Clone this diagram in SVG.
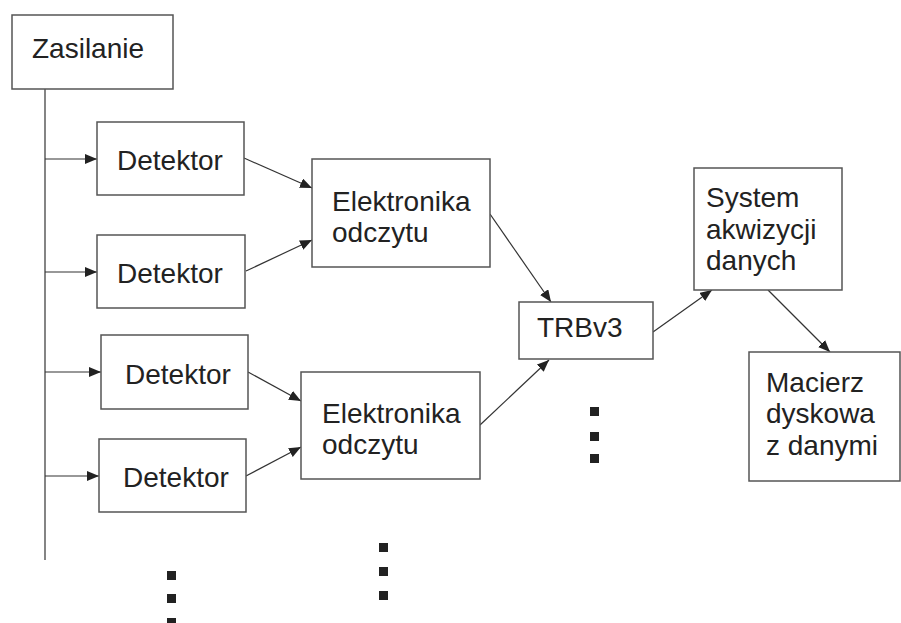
<svg xmlns="http://www.w3.org/2000/svg" width="901" height="623" viewBox="0 0 901 623">
<style>
.box{fill:#fff;stroke:#555;stroke-width:1.5}
.t{font-family:"Liberation Sans",Arial,sans-serif;font-size:28px;fill:#222}
.c{fill:none;stroke:#333;stroke-width:1.2}
.a{marker-end:url(#ah)}
.dot{fill:#222}
</style>
<defs>
<marker id="ah" viewBox="0 0 12 10" refX="12" refY="5" markerWidth="12" markerHeight="10" markerUnits="userSpaceOnUse" orient="auto">
<path d="M0,0 L12,5 L0,10 Z" fill="#222"/>
</marker>
</defs>
<rect width="901" height="623" fill="#fff"/>
<g id="connectors">
<line class="c" x1="45" y1="89" x2="45" y2="560"/>
<line class="c a" x1="45" y1="159" x2="97" y2="159"/>
<line class="c a" x1="45" y1="272" x2="97" y2="272"/>
<line class="c a" x1="45" y1="372" x2="101" y2="372"/>
<line class="c a" x1="45" y1="476" x2="99" y2="476"/>
<line class="c a" x1="244" y1="158" x2="312" y2="188"/>
<line class="c a" x1="246" y1="271" x2="312" y2="240"/>
<line class="c a" x1="248" y1="372" x2="301" y2="401"/>
<line class="c a" x1="246" y1="476" x2="301" y2="447"/>
<line class="c a" x1="490" y1="214" x2="551" y2="302"/>
<line class="c a" x1="480" y1="425" x2="549" y2="360"/>
<line class="c a" x1="653" y1="332" x2="712" y2="290"/>
<line class="c a" x1="768" y1="290" x2="830" y2="352"/>
</g>
<g id="zasilanie"><rect class="box" x="12" y="15" width="161" height="74"/><text class="t" x="32" y="58">Zasilanie</text></g>
<g id="detektor1"><rect class="box" x="97" y="122" width="147" height="73"/><text class="t" x="117" y="170">Detektor</text></g>
<g id="detektor2"><rect class="box" x="97" y="235" width="148" height="73"/><text class="t" x="117" y="283">Detektor</text></g>
<g id="detektor3"><rect class="box" x="101" y="335" width="147" height="74"/><text class="t" x="125" y="384">Detektor</text></g>
<g id="detektor4"><rect class="box" x="99" y="439" width="147" height="73"/><text class="t" x="123" y="487">Detektor</text></g>
<g id="elektronika1"><rect class="box" x="312" y="159" width="178" height="108"/><text class="t" x="332" y="211">Elektronika</text><text class="t" x="332" y="242">odczytu</text></g>
<g id="elektronika2"><rect class="box" x="301" y="372" width="179" height="107"/><text class="t" x="322" y="423">Elektronika</text><text class="t" x="322" y="454">odczytu</text></g>
<g id="trbv3"><rect class="box" x="519" y="302" width="134" height="57"/><text class="t" x="537" y="337">TRBv3</text></g>
<g id="system"><rect class="box" x="694" y="168" width="148" height="122"/><text class="t" x="706" y="207">System</text><text class="t" x="706" y="239">akwizycji</text><text class="t" x="706" y="270">danych</text></g>
<g id="macierz"><rect class="box" x="749" y="352" width="151" height="129"/><text class="t" x="766" y="392">Macierz</text><text class="t" x="766" y="423">dyskowa</text><text class="t" x="766" y="455">z danymi</text></g>
<g id="dots">
<rect class="dot" x="590" y="407" width="9" height="9"/>
<rect class="dot" x="590" y="432" width="9" height="9"/>
<rect class="dot" x="590" y="454" width="9" height="9"/>
<rect class="dot" x="379" y="543" width="9" height="9"/>
<rect class="dot" x="379" y="567" width="9" height="9"/>
<rect class="dot" x="379" y="591" width="9" height="9"/>
<rect class="dot" x="167" y="571" width="9" height="9"/>
<rect class="dot" x="167" y="594" width="9" height="9"/>
<rect class="dot" x="167" y="618" width="9" height="9"/>
</g>
</svg>
